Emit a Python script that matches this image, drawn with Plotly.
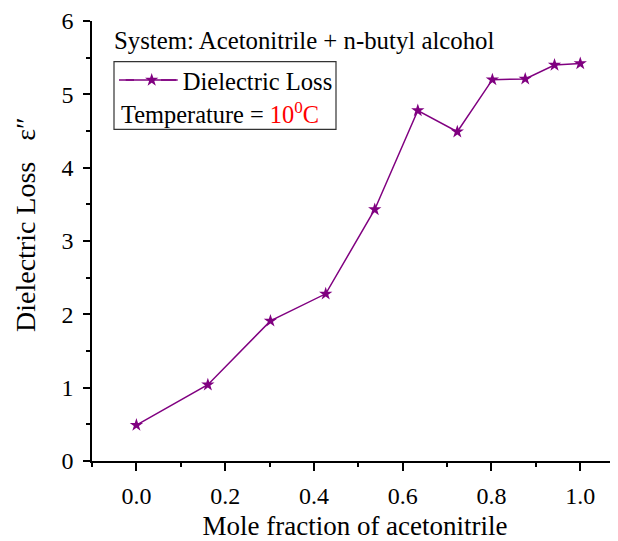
import plotly.graph_objects as go

# Data
mole_fraction = [0.0, 0.161, 0.302, 0.4265, 0.537, 0.634, 0.723, 0.802, 0.876, 0.942, 1.0]
dielectric_loss = [0.49, 1.04, 1.91, 2.28, 3.43, 4.78, 4.49, 5.20, 5.21, 5.40, 5.42]

series_name = "Dielectric Loss"
system_text = "System: Acetonitrile + n-butyl alcohol"
temperature_text = "Temperature = <span style='color:#ff0000'>10<sup>0</sup>C</span>"
x_title = "Mole fraction of acetonitrile"
y_title = "Dielectric Loss\u2002 \u03b5\u2033"

# the page puts the figure 8px from the top-left corner (body margin)
OFF = 8
W, H = 618 - OFF, 541 - OFF
ML, MR, MT, MB = 92 - OFF, 0, 21 - OFF, 541 - 461
PW, PH = W - ML - MR, H - MT - MB
FONT = "Liberation Serif"
PURPLE = "#800080"


def px_x(p):
    return (p - OFF - ML) / PW


def px_y(p):
    return 1 - (p - OFF - MT) / PH


fig = go.Figure()
fig.add_trace(go.Scatter(
    x=mole_fraction, y=dielectric_loss, mode="lines+markers", name=series_name,
    line=dict(color=PURPLE, width=1.5),
    marker=dict(symbol="star", size=10, color=PURPLE, line=dict(width=0)),
    showlegend=True,
))

fig.update_layout(
    width=W, height=H,
    margin=dict(l=ML, r=MR, t=MT, b=MB, pad=0),
    paper_bgcolor="white", plot_bgcolor="white",
    font=dict(family=FONT, size=24, color="black"),
    showlegend=True,
    legend=dict(
        x=px_x(120.7), y=px_y(80), xanchor="left", yanchor="middle",
        bgcolor="rgba(0,0,0,0)", borderwidth=0, itemwidth=52,
        font=dict(family=FONT, size=24.6, color="black"),
        tracegroupgap=0,
    ),
    xaxis=dict(
        range=[-0.1, 1.085], tick0=0, dtick=0.2, tickformat=".1f",
        showgrid=False, zeroline=False, showline=True, linecolor="black", linewidth=1.5,
        ticks="outside", ticklen=8, tickwidth=1.5, tickcolor="black",
        minor=dict(dtick=0.1, ticks="outside", ticklen=4, tickwidth=1.5, tickcolor="black", showgrid=False),
        tickfont=dict(family=FONT, size=24),
        title=dict(text=x_title, font=dict(family=FONT, size=27), standoff=13),
        ticklabelstandoff=4,
    ),
    yaxis=dict(
        range=[0, 6], tick0=0, dtick=1,
        showgrid=False, zeroline=False, showline=True, linecolor="black", linewidth=1.5,
        ticks="outside", ticklen=7, tickwidth=1.5, tickcolor="black",
        minor=dict(dtick=0.5, ticks="outside", ticklen=4, tickwidth=1.5, tickcolor="black", showgrid=False),
        tickfont=dict(family=FONT, size=24),
        ticklabelstandoff=5,
    ),
)

# legend frame and extended legend line
fig.add_shape(type="rect", xref="paper", yref="paper",
              x0=px_x(114), x1=px_x(336), y0=px_y(129.3), y1=px_y(61.7),
              line=dict(color="#333333", width=1.2), fillcolor="rgba(0,0,0,0)")
fig.add_shape(type="line", xref="paper", yref="paper",
              x0=px_x(119), x1=px_x(134), y0=px_y(80), y1=px_y(80),
              line=dict(color=PURPLE, width=1.5))
fig.add_shape(type="line", xref="paper", yref="paper",
              x0=px_x(161), x1=px_x(176), y0=px_y(80), y1=px_y(80),
              line=dict(color=PURPLE, width=1.5))

fig.add_annotation(text=system_text, xref="paper", yref="paper",
                   x=px_x(112), y=px_y(40), xanchor="left", yanchor="middle",
                   showarrow=False, font=dict(family=FONT, size=24.8))
fig.add_annotation(text=temperature_text, xref="paper", yref="paper",
                   x=px_x(119), y=px_y(113), xanchor="left", yanchor="middle",
                   showarrow=False, font=dict(family=FONT, size=24.4))
fig.add_annotation(text=y_title, xref="paper", yref="paper",
                   x=px_x(25), y=px_y(225), xanchor="center", yanchor="middle",
                   textangle=-90, showarrow=False, font=dict(family=FONT, size=28))

fig.write_html("out.html")
